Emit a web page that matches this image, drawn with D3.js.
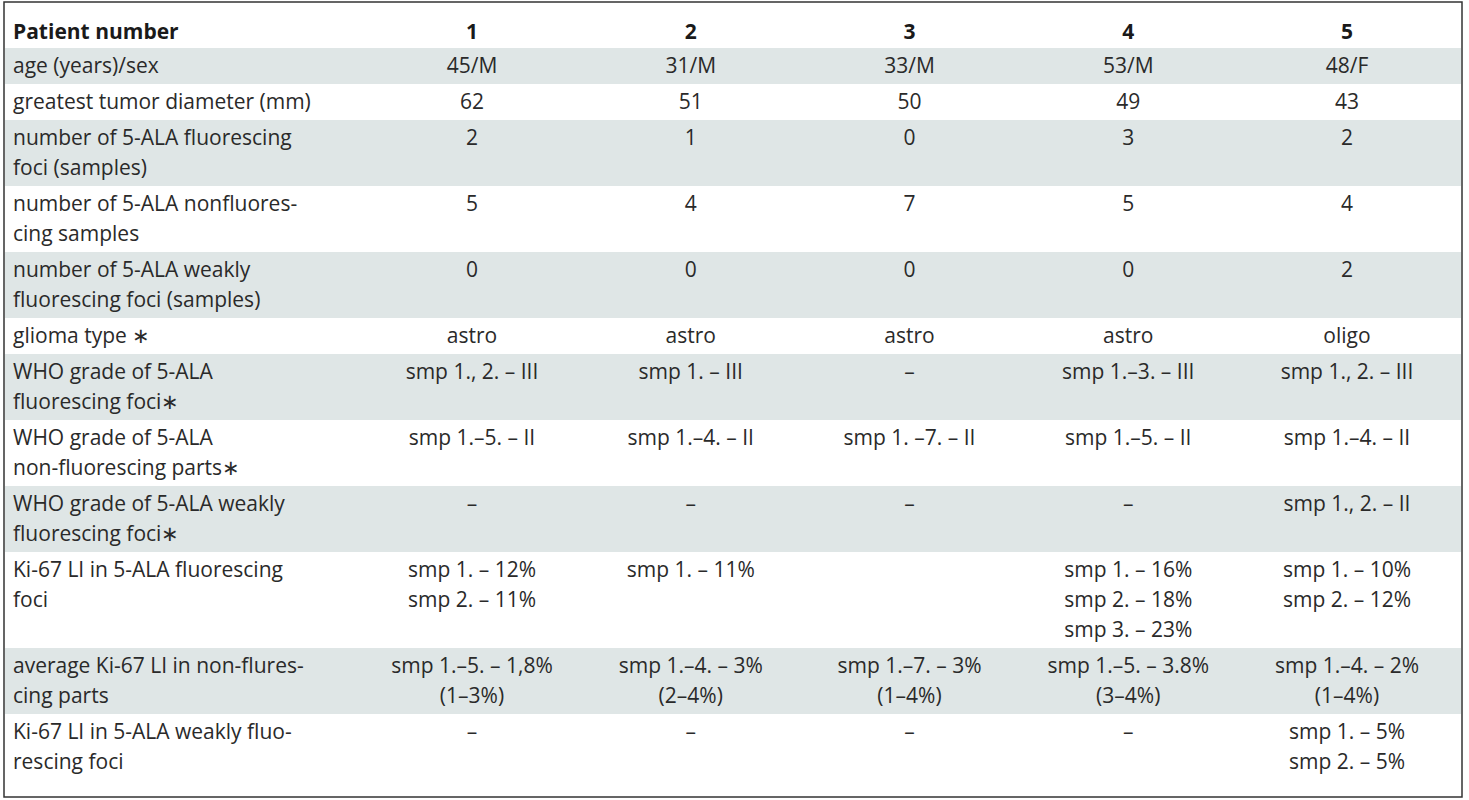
<!DOCTYPE html>
<html><head><meta charset="utf-8">
<script src="https://cdn.jsdelivr.net/npm/d3@7"></script>
<style>body{margin:0;background:#fff}</style>
</head><body>
<div id="chart"></div>
<script>
const patients = ['1', '2', '3', '4', '5'];
const rowLabels = [
  ['age (years)/sex'],
  ['greatest tumor diameter (mm)'],
  ['number of 5-ALA fluorescing', 'foci (samples)'],
  ['number of 5-ALA nonfluores-', 'cing samples'],
  ['number of 5-ALA weakly', 'fluorescing foci (samples)'],
  ['glioma type ∗'],
  ['WHO grade of 5-ALA', 'fluorescing foci∗'],
  ['WHO grade of 5-ALA', 'non-fluorescing parts∗'],
  ['WHO grade of 5-ALA weakly', 'fluorescing foci∗'],
  ['Ki-67 LI in 5-ALA fluorescing', 'foci'],
  ['average Ki-67 LI in non-flures-', 'cing parts'],
  ['Ki-67 LI in 5-ALA weakly fluo-', 'rescing foci']
];
const cells = [
  [['45/M'], ['31/M'], ['33/M'], ['53/M'], ['48/F']],
  [['62'], ['51'], ['50'], ['49'], ['43']],
  [['2'], ['1'], ['0'], ['3'], ['2']],
  [['5'], ['4'], ['7'], ['5'], ['4']],
  [['0'], ['0'], ['0'], ['0'], ['2']],
  [['astro'], ['astro'], ['astro'], ['astro'], ['oligo']],
  [['smp 1., 2. – III'], ['smp 1. – III'], ['–'], ['smp 1.–3. – III'], ['smp 1., 2. – III']],
  [['smp 1.–5. – II'], ['smp 1.–4. – II'], ['smp 1. –7. – II'], ['smp 1.–5. – II'], ['smp 1.–4. – II']],
  [['–'], ['–'], ['–'], ['–'], ['smp 1., 2. – II']],
  [['smp 1. – 12%', 'smp 2. – 11%'], ['smp 1. – 11%'], [], ['smp 1. – 16%', 'smp 2. – 18%', 'smp 3. – 23%'], ['smp 1. – 10%', 'smp 2. – 12%']],
  [['smp 1.–5. – 1,8%', '(1–3%)'], ['smp 1.–4. – 3%', '(2–4%)'], ['smp 1.–7. – 3%', '(1–4%)'], ['smp 1.–5. – 3.8%', '(3–4%)'], ['smp 1.–4. – 2%', '(1–4%)']],
  [['–'], ['–'], ['–'], ['–'], ['smp 1. – 5%', 'smp 2. – 5%']]
];

const W = 1469, H = 800, lineH = 30, topY = 48;
const svg = d3.select('#chart').append('svg').attr('width', W).attr('height', H)
  .style('font-family', '"Open Sans", "Noto Sans", sans-serif').style('font-size', '21px');

const x = d3.scalePoint().domain(patients).range([472, 1347]);

// row heights from number of lines
const rows = rowLabels.map((lab, i) => {
  const n = Math.max(lab.length, ...cells[i].map(c => c.length));
  return {lab, vals: cells[i], n, h: 6 + lineH * n};
});
let acc = topY;
rows.forEach(r => { r.y = acc; acc += r.h; });

svg.append('g').selectAll('rect').data(rows.filter((r, i) => i % 2 === 0)).join('rect')
  .attr('x', 5).attr('width', 1456).attr('y', d => d.y).attr('height', d => d.h)
  .attr('fill', '#dfe6e6');

svg.append('rect').attr('x', 4).attr('y', 2).attr('width', 1458).attr('height', 795)
  .attr('fill', 'none').attr('stroke', '#333').attr('stroke-width', 1.5);

// header
const head = svg.append('g').style('font-weight', 'bold').attr('fill', '#1a1a1a');
head.append('text').attr('x', 13).attr('y', 39).text('Patient number');
head.selectAll('.p').data(patients).join('text').attr('class', 'p')
  .attr('x', d => x(d)).attr('y', 39).attr('text-anchor', 'middle').text(d => d);

const body = svg.append('g').attr('fill', '#2a2a2a');
rows.forEach(r => {
  const t = body.append('text').attr('x', 13).attr('y', r.y + 25);
  r.lab.forEach((l, j) => t.append('tspan').attr('x', 13).attr('dy', j ? lineH : 0).text(l));
  r.vals.forEach((v, k) => {
    const tc = body.append('text').attr('text-anchor', 'middle').attr('y', r.y + 25);
    v.forEach((l, j) => tc.append('tspan').attr('x', x(patients[k])).attr('dy', j ? lineH : 0).text(l));
  });
});
</script>
</body></html>
